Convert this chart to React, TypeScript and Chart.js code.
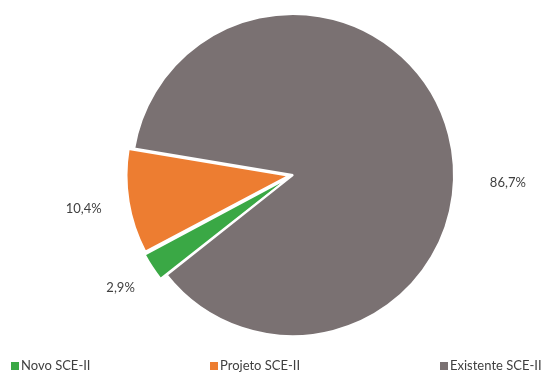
import React, { useEffect, useRef } from "react";
import { Chart, registerables } from "chart.js";

Chart.register(...registerables);

const categories = ["Novo SCE-II", "Projeto SCE-II", "Existente SCE-II"];
const values = [2.9, 10.4, 86.7];
const valueLabels = ["2,9%", "10,4%", "86,7%"];
const colors = ["#3aa845", "#ed7d31", "#7a7172"];
const explode = [16, 16, 0];

const TEXT_COLOR = "#404040";
const FONT = "13px Lato";
// label placement: null = radial at slice middle; number = angle (deg, canvas)
const labelAngle: (number | null)[] = [null, null, 2];
const labelGap = [29, 35, 54];

const labelPlugin = {
  id: "sliceLabels",
  afterDatasetsDraw(chart: any) {
    const ctx = chart.ctx;
    const meta = chart.getDatasetMeta(0);
    ctx.save();
    ctx.font = FONT;
    ctx.fillStyle = TEXT_COLOR;
    ctx.textAlign = "center";
    ctx.textBaseline = "middle";
    meta.data.forEach((arc: any, i: number) => {
      const a = labelAngle[i];
      const mid = a === null ? (arc.startAngle + arc.endAngle) / 2 : (a * Math.PI) / 180;
      const off = arc.options.offset || 0;
      const r = arc.outerRadius + off + labelGap[i];
      const x = arc.x + Math.cos(mid) * r;
      const y = arc.y + Math.sin(mid) * r;
      ctx.fillText(valueLabels[i], x, y);
    });
    ctx.restore();
  },
};

const legendPlugin = {
  id: "bottomLegend",
  afterDraw(chart: any) {
    const ctx = chart.ctx;
    const xs = [11, 210, 440];
    const y = 366;
    ctx.save();
    ctx.font = FONT;
    ctx.textBaseline = "middle";
    ctx.textAlign = "left";
    categories.forEach((c, i) => {
      ctx.fillStyle = colors[i];
      ctx.fillRect(xs[i], y - 4, 8, 8);
      ctx.fillStyle = TEXT_COLOR;
      ctx.fillText(c, xs[i] + 10, y);
    });
    ctx.restore();
  },
};

export default function App() {
  const ref = useRef<HTMLCanvasElement | null>(null);
  useEffect(() => {
    document.body.style.margin = "0";
    const chart = new Chart(ref.current as HTMLCanvasElement, {
      type: "pie",
      data: {
        labels: categories,
        datasets: [
          {
            data: values,
            backgroundColor: colors,
            borderColor: "#ffffff",
            borderWidth: 2,
            offset: explode,
          },
        ],
      },
      options: {
        responsive: false,
        animation: false,
        rotation: 231.6,
        radius: 161,
        layout: { padding: { top: 6, bottom: 30, left: 62, right: 30 } },
        plugins: {
          legend: { display: false },
          tooltip: { enabled: false },
        },
      },
      plugins: [labelPlugin, legendPlugin],
    });
    return () => chart.destroy();
  }, []);
  return (
    <div style={{ width: 554, height: 374 }}>
      <canvas ref={ref} width={554} height={374} />
    </div>
  );
}
